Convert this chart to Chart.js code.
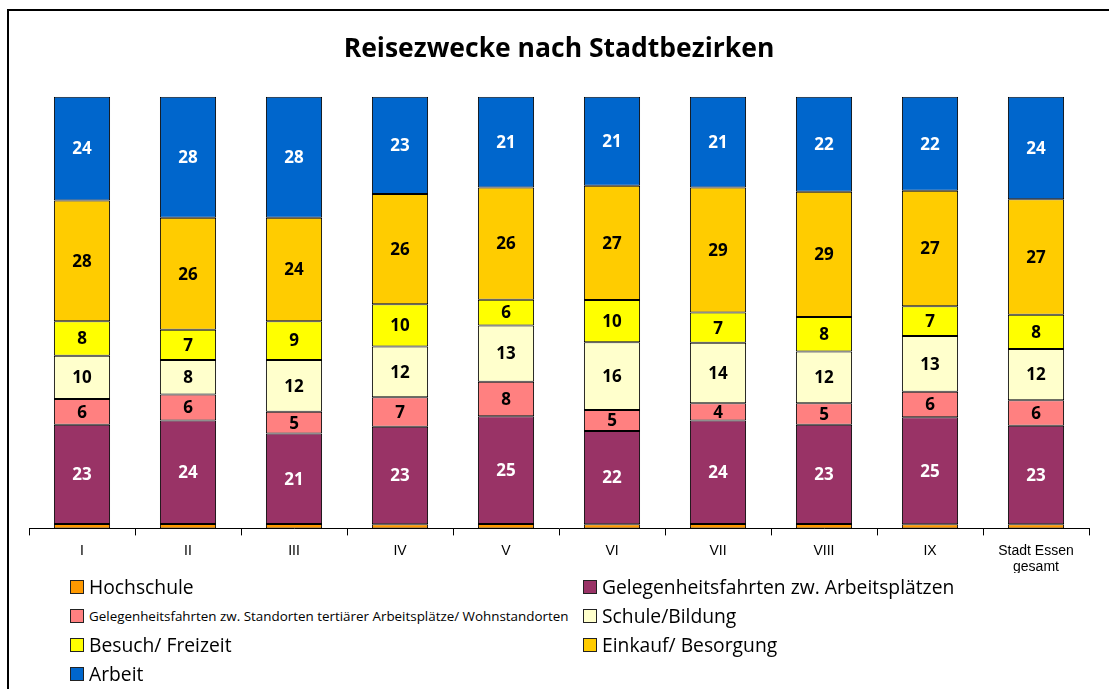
<!DOCTYPE html>
<html>
<head>
<meta charset="utf-8">
<script src="https://cdn.jsdelivr.net/npm/chart.js@4/dist/chart.umd.min.js"></script>
<style>
  html, body { margin: 0; padding: 0; background: #fff; overflow: hidden; width: 1109px; height: 689px; }
  #frame { position: absolute; left: 7px; top: 9px; width: 1200px; height: 800px; border: 2px solid #000; box-sizing: border-box; }
  #wrap { position: absolute; left: 0; top: 0; width: 1109px; height: 573px; overflow: hidden; }
  #legend { position: absolute; left: 0; top: 572px; width: 1109px; font-family: "Open Sans", sans-serif; color: #000; }
  .item { position: absolute; display: flex; align-items: center; height: 29px; white-space: nowrap; }
  .box { width: 12px; height: 12px; border: 1px solid #222; margin-right: 5px; flex: none; }
</style>
</head>
<body>
<div id="frame"></div>
<div id="wrap"><canvas id="c" width="1109" height="583"></canvas></div>
<div id="legend"></div>
<script>
// categories
const districts = ['I', 'II', 'III', 'IV', 'V', 'VI', 'VII', 'VIII', 'IX', ['Stadt Essen', 'gesamt']];

// shares in percent (bottom to top)
const hochschule = [1, 1, 1, 1, 1, 1, 1, 1, 1, 1];
const gelegArbeitsplaetze = [23, 24, 21, 23, 25, 22, 24, 23, 25, 23];
const gelegStandorte = [6, 6, 5, 7, 8, 5, 4, 5, 6, 6];
const schule = [10, 8, 12, 12, 13, 16, 14, 12, 13, 12];
const besuch = [8, 7, 9, 10, 6, 10, 7, 8, 7, 8];
const einkauf = [28, 26, 24, 26, 26, 27, 29, 29, 27, 27];
const arbeit = [24, 28, 28, 23, 21, 21, 21, 22, 22, 24];

const seriesNames = [
    'Hochschule',
    'Gelegenheitsfahrten zw. Arbeitsplätzen',
    'Gelegenheitsfahrten zw. Standorten tertiärer Arbeitsplätze/ Wohnstandorten',
    'Schule/Bildung',
    'Besuch/ Freizeit',
    'Einkauf/ Besorgung',
    'Arbeit'
];
const seriesValues = [hochschule, gelegArbeitsplaetze, gelegStandorte, schule, besuch, einkauf, arbeit];
const seriesColors = ['#FF9900', '#993366', '#FF8080', '#FFFFCC', '#FFFF00', '#FFCC00', '#0066CC'];
const labelColors = [null, '#fff', '#000', '#000', '#000', '#000', '#fff'];

// 100% stacked: normalise each column
const totals = districts.map((d, i) => seriesValues.reduce((s, arr) => s + arr[i], 0));

const datasets = seriesNames.map((name, k) => ({
    label: name,
    data: seriesValues[k].map((v, i) => v / totals[i] * 100),
    raw: seriesValues[k],
    backgroundColor: seriesColors[k],
    borderColor: '#000',
    borderWidth: 1,
    borderSkipped: false,
    barPercentage: 0.53,
    categoryPercentage: 1
}));

// value labels in the middle of each segment
const segmentLabels = {
    id: 'segmentLabels',
    afterDatasetsDraw(chart) {
        const ctx = chart.ctx;
        ctx.save();
        ctx.font = 'bold 17px "Open Sans", sans-serif';
        ctx.textAlign = 'center';
        ctx.textBaseline = 'middle';
        chart.data.datasets.forEach((ds, k) => {
            if (!labelColors[k]) return;
            chart.getDatasetMeta(k).data.forEach((bar, i) => {
                ctx.fillStyle = labelColors[k];
                ctx.fillText(String(ds.raw[i]), bar.x, (bar.y + bar.base) / 2 + 1);
            });
        });
        ctx.restore();
    }
};

new Chart(document.getElementById('c'), {
    type: 'bar',
    data: { labels: districts, datasets: datasets },
    options: {
        responsive: false,
        animation: false,
        layout: { padding: { top: 9, left: 29, right: 20, bottom: 0 } },
        plugins: {
            legend: { display: false },
            tooltip: { enabled: false },
            title: {
                display: true,
                text: 'Reisezwecke nach Stadtbezirken',
                color: '#000',
                font: { family: '"Open Sans", sans-serif', size: 26.5, weight: 'bold' },
                padding: { top: 25, bottom: 31 }
            }
        },
        scales: {
            x: {
                stacked: true,
                grid: { drawOnChartArea: false, drawTicks: true, tickLength: 7, color: '#000', offset: true },
                border: { display: true, color: '#000', width: 1 },
                ticks: { color: '#000', font: { family: '"Liberation Sans", Arial, sans-serif', size: 14 }, padding: 7, maxRotation: 0, autoSkip: false }
            },
            y: { stacked: true, display: false, min: 0, max: 100 }
        }
    },
    plugins: [segmentLabels]
});

// legend in two columns, like the original
const legend = document.getElementById('legend');
seriesNames.forEach((name, k) => {
    const el = document.createElement('div');
    el.className = 'item';
    el.style.left = (k % 2 === 0 ? 70 : 583) + 'px';
    el.style.top = (Math.floor(k / 2) * 29) + 'px';
    el.style.fontSize = (k === 2 ? 13.4 : 19.3) + 'px';
    el.innerHTML = '<span class="box" style="background:' + seriesColors[k] + '"></span><span>' + name + '</span>';
    legend.appendChild(el);
});
</script>
</body>
</html>
